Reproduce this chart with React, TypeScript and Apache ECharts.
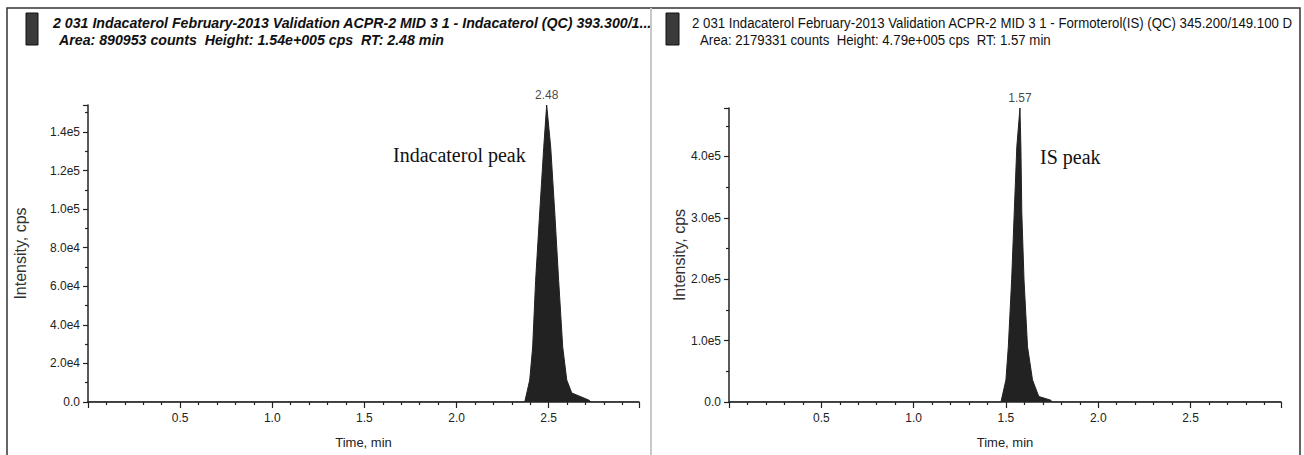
import React, { useEffect, useRef } from 'react';
import * as echarts from 'echarts';

// Indacaterol chromatogram (left panel)
const leftTimes = [0, 2.37, 2.397, 2.413, 2.429, 2.451, 2.473, 2.489, 2.511, 2.533, 2.554, 2.576, 2.598, 2.625, 2.717, 2.73, 2.99];
const leftIntensity = [0, 0, 11400, 28500, 63000, 98000, 132000, 154000, 132000, 98000, 63000, 28500, 11400, 4700, 1000, 0, 0];

// Formoterol (IS) chromatogram (right panel)
const rightTimes = [0, 1.473, 1.5, 1.513, 1.531, 1.545, 1.559, 1.576, 1.581, 1.586, 1.598, 1.617, 1.644, 1.678, 1.743, 1.75, 2.99];
const rightIntensity = [0, 0, 36000, 90000, 199000, 308000, 416000, 479000, 416000, 308000, 199000, 90000, 36000, 9000, 3000, 0, 0];

const leftApexLabel = '2.48';
const rightApexLabel = '1.57';

const leftTitle1 = '2 031 Indacaterol February-2013 Validation ACPR-2 MID 3 1 - Indacaterol (QC) 393.300/1...';
const leftTitle2 = 'Area: 890953 counts  Height: 1.54e+005 cps  RT: 2.48 min';
const rightTitle1 = '2 031 Indacaterol February-2013 Validation ACPR-2 MID 3 1 - Formoterol(IS) (QC) 345.200/149.100 D';
const rightTitle2 = 'Area: 2179331 counts  Height: 4.79e+005 cps  RT: 1.57 min';

const leftPeakNote = 'Indacaterol peak';
const rightPeakNote = 'IS peak';

const xAxisName = 'Time, min';
const yAxisName = 'Intensity, cps';

const SANS = '"Liberation Sans", Arial, Helvetica, sans-serif';
const SERIF = '"Liberation Serif", "Times New Roman", serif';
const INK = '#222';

function sciLabel(v: number): string {
  if (v === 0) return '0.0';
  const e = Math.floor(Math.log10(v) + 1e-9);
  const m = v / Math.pow(10, e);
  return m.toFixed(1) + 'e' + e;
}

function xAxisOpt(gridIndex: number) {
  return {
    type: 'value',
    gridIndex,
    min: 0,
    max: 2.99,
    interval: 0.5,
    name: xAxisName,
    nameLocation: 'middle',
    nameGap: 34,
    nameTextStyle: { fontFamily: SANS, fontSize: 13, color: INK },
    axisLine: { show: true, onZero: false, lineStyle: { color: INK, width: 1.5 } },
    axisTick: { show: true, length: 6, lineStyle: { color: INK, width: 1.2 } },
    minorTick: { show: true, splitNumber: 5, length: 3, lineStyle: { color: INK, width: 1.2 } },
    splitLine: { show: false },
    axisLabel: {
      fontFamily: SANS,
      fontSize: 12,
      color: INK,
      margin: 10,
      showMaxLabel: false,
      formatter: (v: number) => (v === 0 || v > 2.9 ? '' : v.toFixed(1)),
    },
  };
}

function yAxisOpt(gridIndex: number, max: number, interval: number, nameGap: number) {
  return {
    type: 'value',
    gridIndex,
    min: 0,
    max,
    interval,
    name: yAxisName,
    nameLocation: 'middle',
    nameGap,
    nameTextStyle: { fontFamily: SANS, fontSize: 16, color: '#333' },
    axisLine: { show: true, lineStyle: { color: INK, width: 1.5 } },
    axisTick: { show: true, length: 5, lineStyle: { color: INK, width: 1.2 } },
    minorTick: { show: true, splitNumber: 2, length: 3, lineStyle: { color: INK, width: 1.2 } },
    splitLine: { show: false },
    axisLabel: {
      fontFamily: SANS,
      fontSize: 12,
      color: INK,
      margin: 8,
      showMaxLabel: false,
      formatter: (v: number) => (v >= max - 1 ? '' : sciLabel(v)),
    },
  };
}

function apexPoint(times: number[], vals: number[]) {
  let apex = 0;
  vals.forEach((v, i) => {
    if (v > vals[apex]) apex = i;
  });
  return [[times[apex], vals[apex]]];
}

function peakSeries(idx: number, times: number[], vals: number[]) {
  return {
    type: 'line',
    xAxisIndex: idx,
    yAxisIndex: idx,
    data: times.map((t, i) => [t, vals[i]]),
    symbol: 'none',
    lineStyle: { color: INK, width: 1 },
    areaStyle: { color: INK, opacity: 1 },
    silent: true,
  };
}

function apexSeries(idx: number, times: number[], vals: number[], text: string) {
  return {
    type: 'scatter',
    xAxisIndex: idx,
    yAxisIndex: idx,
    data: apexPoint(times, vals),
    symbolSize: 2,
    clip: false,
    itemStyle: { color: 'rgba(0,0,0,0)' },
    silent: true,
    label: {
      show: true,
      position: 'top',
      distance: 3,
      formatter: text,
      fontFamily: SANS,
      fontSize: 12,
      color: '#111',
    },
    labelLayout: { hideOverlap: false },
  };
}

export default function App() {
  const ref = useRef<HTMLDivElement>(null);

  useEffect(() => {
    document.body.style.margin = '0';
    if (!ref.current) return;
    const chart = echarts.init(ref.current, undefined, { renderer: 'svg' });

    const option = {
      animation: false,
      backgroundColor: '#ffffff',
      grid: [
        { left: 88, right: 665, top: 105, bottom: 53, containLabel: false },
        { left: 729, right: 23, top: 108, bottom: 53, containLabel: false },
      ],
      xAxis: [xAxisOpt(0), xAxisOpt(1)],
      yAxis: [yAxisOpt(0, 154000, 20000, 60), yAxisOpt(1, 479000, 100000, 36)],
      series: [
        peakSeries(0, leftTimes, leftIntensity),
        peakSeries(1, rightTimes, rightIntensity),
        apexSeries(0, leftTimes, leftIntensity, leftApexLabel),
        apexSeries(1, rightTimes, rightIntensity, rightApexLabel),
      ],
      graphic: [
        {
          type: 'rect',
          shape: { x: 7, y: 8, width: 1293, height: 460 },
          style: { fill: 'none', stroke: '#333', lineWidth: 1.5 },
          silent: true,
        },
        {
          type: 'line',
          shape: { x1: 651, y1: 8, x2: 651, y2: 455 },
          style: { stroke: '#c8c8c8', lineWidth: 2 },
          silent: true,
        },
        {
          type: 'rect',
          shape: { x: 26, y: 13, width: 12, height: 32 },
          style: { fill: '#3a3a3a', stroke: '#111', lineWidth: 1 },
          silent: true,
        },
        {
          type: 'rect',
          shape: { x: 666, y: 13, width: 13, height: 32 },
          style: { fill: '#3a3a3a', stroke: '#111', lineWidth: 1 },
          silent: true,
        },
        {
          type: 'text',
          x: 53,
          y: 23,
          scaleX: 0.915,
          style: {
            text: leftTitle1,
            fontFamily: SANS,
            fontSize: 15.5,
            fontWeight: 'bold',
            fontStyle: 'italic',
            fill: '#111',
            verticalAlign: 'middle',
          },
        },
        {
          type: 'text',
          x: 59,
          y: 40,
          scaleX: 0.915,
          style: {
            text: leftTitle2,
            fontFamily: SANS,
            fontSize: 15.5,
            fontWeight: 'bold',
            fontStyle: 'italic',
            fill: '#111',
            verticalAlign: 'middle',
          },
        },
        {
          type: 'text',
          x: 692,
          y: 23,
          scaleX: 0.945,
          style: {
            text: rightTitle1,
            fontFamily: SANS,
            fontSize: 14,
            fill: '#111',
            verticalAlign: 'middle',
          },
        },
        {
          type: 'text',
          x: 700,
          y: 40,
          scaleX: 0.945,
          style: {
            text: rightTitle2,
            fontFamily: SANS,
            fontSize: 14,
            fill: '#111',
            verticalAlign: 'middle',
          },
        },
        {
          type: 'text',
          x: 393,
          y: 155,
          style: {
            text: leftPeakNote,
            fontFamily: SERIF,
            fontSize: 20,
            fill: '#111',
            verticalAlign: 'middle',
          },
        },
        {
          type: 'text',
          x: 1040,
          y: 157,
          style: {
            text: rightPeakNote,
            fontFamily: SERIF,
            fontSize: 20,
            fill: '#111',
            verticalAlign: 'middle',
          },
        },
      ],
    };

    chart.setOption(option as any);
    return () => {
      chart.dispose();
    };
  }, []);

  return <div ref={ref} style={{ width: 1304, height: 455 }} />;
}
